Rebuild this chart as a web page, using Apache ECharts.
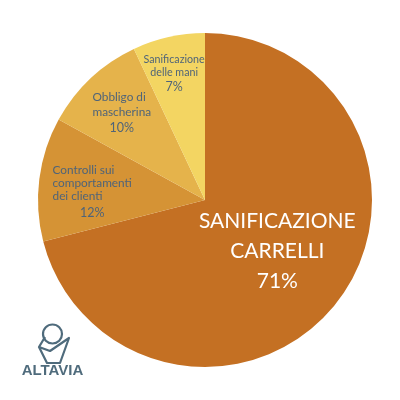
<!DOCTYPE html>
<html>
<head>
<meta charset="utf-8">
<style>html,body{margin:0;padding:0;background:#fff}#main{width:400px;height:400px}</style>
<script src="https://cdn.jsdelivr.net/npm/echarts@6/dist/echarts.min.js"></script>
</head>
<body>
<div id="main"></div>
<script>
var myChart = echarts.init(document.getElementById('main'), null, { renderer: 'canvas' });

const categories = ['SANIFICAZIONE\nCARRELLI', 'Controlli sui\ncomportamenti\ndei clienti', 'Obbligo di\nmascherina', 'Sanificazione\ndelle mani']
const values = [71, 12, 10, 7]
const colors = ['#c47023', '#d59335', '#e5b34b', '#f3d562']

const textColor = '#4f6479'
const fontFamily = 'Lato'

// label look for each slice, same order as categories
const labelStyles = [
    { offset: [4, -2], rich: { n: { fontSize: 21, lineHeight: 30, color: '#fff', fontFamily }, p: { fontSize: 21, lineHeight: 30, color: '#fff', fontFamily } } },
    { offset: [-27, 4], rich: { n: { fontSize: 11.8, lineHeight: 13, color: textColor, fontFamily, align: 'left' }, p: { fontSize: 12.5, lineHeight: 20, color: textColor, fontFamily, align: 'center' } } },
    { offset: [-24, -24], rich: { n: { fontSize: 11.8, lineHeight: 15, color: textColor, fontFamily, align: 'left' }, p: { fontSize: 12.5, lineHeight: 17, color: textColor, fontFamily, align: 'center' } } },
    { offset: [-12, -42], rich: { n: { fontSize: 10.7, lineHeight: 13, color: textColor, fontFamily }, p: { fontSize: 12.5, lineHeight: 16, color: textColor, fontFamily } } }
]

const pieData = categories.map((name, i) => {
    return {
        name: name,
        value: values[i],
        itemStyle: { color: colors[i] },
        label: {
            position: 'inside',
            offset: labelStyles[i].offset,
            rich: labelStyles[i].rich,
            formatter: name.split('\n').map((l) => '{n|' + l + '}').join('\n') + '\n{p|' + values[i] + '%}'
        }
    }
})

option = {
    animation: false,
    series: [
        {
            type: 'pie',
            center: [205, 200],
            radius: [0, 167],
            startAngle: 90,
            clockwise: true,
            silent: true,
            avoidLabelOverlap: false,
            labelLayout: { hideOverlap: false },
            labelLine: { show: false },
            data: pieData
        }
    ],
    graphic: [
        // ALTAVIA logo
        {
            type: 'circle',
            shape: { cx: 52.5, cy: 334, r: 9.5 },
            style: { fill: 'none', stroke: '#4f6b7c', lineWidth: 2.2 }
        },
        {
            type: 'polyline',
            shape: { points: [[45, 337], [39, 347], [50, 351], [69, 338], [60, 363], [47, 363], [39, 347]] },
            style: { fill: 'none', stroke: '#4f6b7c', lineWidth: 2.2, lineJoin: 'round' }
        },
        {
            type: 'text',
            x: 52.5,
            y: 371,
            style: { text: 'ALTAVIA', align: 'center', verticalAlign: 'middle', fontSize: 15, fontWeight: 'bold', fontFamily: 'Liberation Sans', fill: '#4f6b7c' }
        }
    ]
};

myChart.setOption(option)
</script>
</body>
</html>
